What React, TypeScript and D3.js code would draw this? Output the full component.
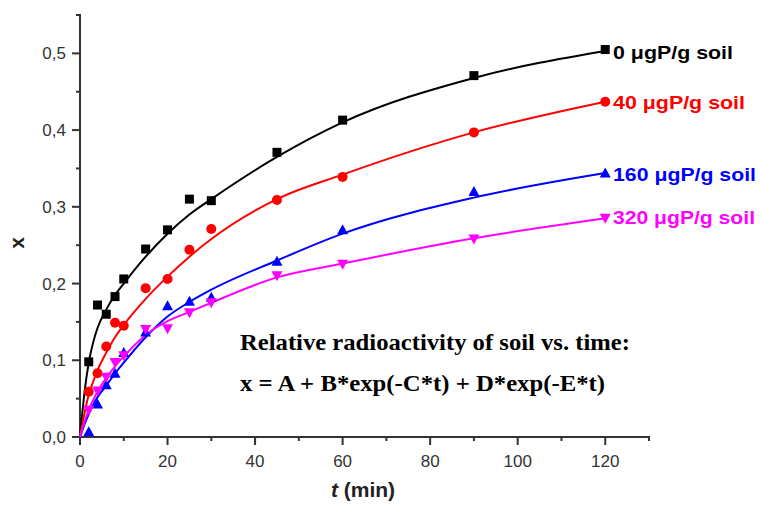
import React from "react";
import * as d3 from "d3";

const times = [2, 4, 6, 8, 10, 15, 20, 25, 30, 45, 60, 90, 120];
const s0 = [0.098, 0.172, 0.16, 0.183, 0.206, 0.245, 0.27, 0.31, 0.308, 0.371, 0.413, 0.471, 0.505];
const s40 = [0.059, 0.083, 0.118, 0.149, 0.145, 0.194, 0.206, 0.244, 0.271, 0.309, 0.339, 0.397, 0.437];
const s160 = [0.007, 0.043, 0.068, 0.083, 0.11, 0.137, 0.171, 0.177, 0.182, 0.229, 0.27, 0.32, 0.344];
const s320 = [0.035, 0.06, 0.078, 0.097, 0.106, 0.14, 0.141, 0.162, 0.175, 0.21, 0.225, 0.258, 0.285];

const fitT = [0, 0.5, 1, 2, 3, 4, 6, 8, 10, 15, 20, 25, 30, 45, 60, 90, 120];
const fit0 = [0, 0.03, 0.057, 0.097, 0.123, 0.142, 0.166, 0.185, 0.2, 0.235, 0.265, 0.29, 0.31, 0.365, 0.41, 0.468, 0.503];
const fit40 = [0, 0.015, 0.03, 0.055, 0.072, 0.087, 0.11, 0.13, 0.146, 0.18, 0.209, 0.235, 0.258, 0.31, 0.342, 0.397, 0.437];
const fit160 = [0, 0.008, 0.016, 0.03, 0.042, 0.052, 0.067, 0.083, 0.097, 0.13, 0.157, 0.176, 0.192, 0.23, 0.265, 0.312, 0.344];
const fit320 = [0, 0.01, 0.019, 0.035, 0.048, 0.059, 0.077, 0.092, 0.105, 0.133, 0.151, 0.163, 0.175, 0.208, 0.226, 0.259, 0.285];

const seriesLabels = ["0 \u03bcgP/g soil", "40 \u03bcgP/g soil", "160 \u03bcgP/g soil", "320 \u03bcgP/g soil"];
const seriesColors = ["#000000", "#ff0000", "#0000ff", "#ff00ff"];
const seriesMarkers = ["square", "circle", "triUp", "triDown"];
const labelWidths = [120, 132, 143, 142];

const xTicks = [0, 20, 40, 60, 80, 100, 120];
const yTicks = [0, 0.1, 0.2, 0.3, 0.4, 0.5];
const yTickLabels = ["0,0", "0,1", "0,2", "0,3", "0,4", "0,5"];

const annotation1 = "Relative radioactivity of soil vs. time:";
const annotation2 = "x = A + B*exp(-C*t) + D*exp(-E*t)";

function Marker({ kind, x, y, color }: { kind: string; x: number; y: number; color: string }) {
  if (kind === "square") return <rect x={x - 4.5} y={y - 4.5} width={9} height={9} fill={color} />;
  if (kind === "circle") return <circle cx={x} cy={y} r={5} fill={color} />;
  if (kind === "triUp")
    return <path d={`M${x},${y - 5.5}L${x + 5.5},${y + 4.5}L${x - 5.5},${y + 4.5}Z`} fill={color} />;
  return <path d={`M${x},${y + 5.5}L${x + 5.5},${y - 4.5}L${x - 5.5},${y - 4.5}Z`} fill={color} />;
}

export default function App() {
  const W = 760, H = 505;
  const x = d3.scaleLinear().domain([0, 130]).range([80, 649]);
  const y = d3.scaleLinear().domain([0, 0.55]).range([437, 15]);
  const data = [s0, s40, s160, s320];
  const fits = [fit0, fit40, fit160, fit320];
  const line = d3
    .line<[number, number]>()
    .x((d) => x(d[0]))
    .y((d) => y(d[1]))
    .curve(d3.curveMonotoneX);
  const axisColor = "#333";
  const xMinor = d3.range(10, 130, 20);
  const yMinor = d3.range(0.05, 0.55, 0.1);

  return (
    <svg width={W} height={H} style={{ position: "absolute", left: 0, top: 0, background: "#fff" }}>
      <g stroke={axisColor} strokeWidth={2} fill="none">
        <path d={`M${x(0) - 4},${y(0.55)}H${x(0)}V${y(0)}H${x(130)}V${y(0) + 4}`} />
        {xTicks.map((t) => (
          <line key={"xt" + t} x1={x(t)} x2={x(t)} y1={y(0)} y2={y(0) + 8} />
        ))}
        {xMinor.map((t) => (
          <line key={"xm" + t} x1={x(t)} x2={x(t)} y1={y(0)} y2={y(0) + 4} />
        ))}
        {yTicks.map((v) => (
          <line key={"yt" + v} x1={x(0) - 8} x2={x(0)} y1={y(v)} y2={y(v)} />
        ))}
        {yMinor.map((v) => (
          <line key={"ym" + v} x1={x(0) - 4} x2={x(0)} y1={y(v)} y2={y(v)} />
        ))}
      </g>
      <g fontFamily="Liberation Sans, Arial, sans-serif" fontSize={17} fill="#333">
        {xTicks.map((t) => (
          <text key={"xl" + t} x={x(t)} y={467} textAnchor="middle">
            {t}
          </text>
        ))}
        {yTicks.map((v, i) => (
          <text key={"yl" + v} x={66} y={y(v) + 6} textAnchor="end">
            {yTickLabels[i]}
          </text>
        ))}
      </g>
      <text x={363} y={497} textAnchor="middle" fontFamily="Liberation Sans, Arial, sans-serif" fontSize={21} fontWeight="bold" fill="#222">
        <tspan fontStyle="italic">t</tspan> (min)
      </text>
      <text
        transform={`translate(24,243) rotate(-90)`}
        textAnchor="middle"
        fontFamily="Liberation Sans, Arial, sans-serif"
        fontSize={21}
        fontWeight="bold"
        fill="#222"
      >
        x
      </text>

      {fits.map((f, i) => (
        <path
          key={"fit" + i}
          d={line(fitT.map((t, j) => [t, f[j]] as [number, number])) || ""}
          fill="none"
          stroke={seriesColors[i]}
          strokeWidth={2}
        />
      ))}
      {data.map((s, i) => (
        <g key={"pts" + i}>
          {s.map((v, j) => (
            <Marker key={j} kind={seriesMarkers[i]} x={x(times[j])} y={y(v)} color={seriesColors[i]} />
          ))}
        </g>
      ))}
      {[59, 109, 181, 224].map((yy, i) => (
        <text
          key={"lab" + i}
          x={613}
          y={yy}
          fontFamily="Liberation Sans, Arial, sans-serif"
          fontSize={19}
          fontWeight="bold"
          fill={seriesColors[i]}
          textLength={labelWidths[i]}
          lengthAdjust="spacingAndGlyphs"
        >
          {seriesLabels[i]}
        </text>
      ))}
      <g fontFamily="Liberation Serif, Times New Roman, serif" fontWeight="bold" fill="#000">
        <text x={240} y={350} fontSize={24} textLength={390} lengthAdjust="spacingAndGlyphs">
          {annotation1}
        </text>
        <text x={240} y={391} fontSize={24} textLength={365} lengthAdjust="spacingAndGlyphs">
          {annotation2}
        </text>
      </g>
    </svg>
  );
}
